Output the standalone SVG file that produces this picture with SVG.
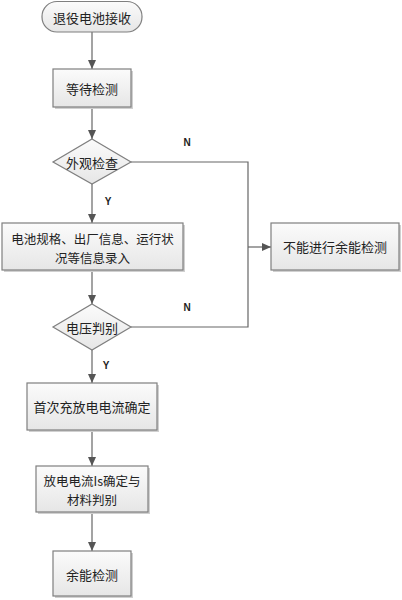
<svg xmlns="http://www.w3.org/2000/svg" width="402" height="600" viewBox="0 0 402 600">
<defs>
<linearGradient id="g" x1="0" y1="0" x2="0" y2="1">
<stop offset="0" stop-color="#fbfbfb"/>
<stop offset="1" stop-color="#e6e6e6"/>
</linearGradient>
<marker id="a" markerWidth="10" markerHeight="8" refX="9" refY="4" orient="auto" markerUnits="userSpaceOnUse">
<path d="M0,0 L9,4 L0,8 Z" fill="#555"/>
</marker>
</defs>
<style>
.n{fill:url(#g);stroke:#7f7f7f;stroke-width:1.2}
.sh{fill:#d0d0d0}
.t{font-family:"Noto Sans CJK SC","Liberation Sans",sans-serif;font-size:13px;fill:#222;text-anchor:middle;dominant-baseline:central}
.t2{font-size:12.5px}
.l{font-family:"Liberation Sans",Arial,sans-serif;font-size:10px;font-weight:bold;fill:#222;text-anchor:middle;dominant-baseline:central}
.c{fill:none;stroke:#666;stroke-width:1.2}
</style>
<rect width="402" height="600" fill="#fff"/>
<g id="connectors">
<line class="c" x1="92" y1="32" x2="92" y2="69" marker-end="url(#a)"/>
<line class="c" x1="92" y1="107" x2="92" y2="139" marker-end="url(#a)"/>
<line class="c" x1="92" y1="184" x2="92" y2="223" marker-end="url(#a)"/>
<polyline class="c" points="131,162 248,162 248,327 131,327"/>
<line class="c" x1="248" y1="247" x2="271" y2="247" marker-end="url(#a)"/>
<line class="c" x1="92" y1="270" x2="92" y2="304" marker-end="url(#a)"/>
<line class="c" x1="92" y1="350" x2="92" y2="383" marker-end="url(#a)"/>
<line class="c" x1="92" y1="430" x2="92" y2="466" marker-end="url(#a)"/>
<line class="c" x1="92" y1="512" x2="92" y2="551" marker-end="url(#a)"/>
<text class="l" x="187" y="142">N</text>
<text class="l" x="108" y="201">Y</text>
<text class="l" x="187" y="307">N</text>
<text class="l" x="106" y="365">Y</text>
</g>
<g id="start">
<rect x="42" y="1.5" width="100" height="30.5" rx="15" class="n"/>
<text class="t" x="92" y="17">退役电池接收</text>
</g>
<g id="wait">
<rect class="sh" x="55" y="71" width="78" height="38"/>
<rect class="n" x="53" y="69" width="78" height="38"/>
<text class="t" x="92" y="88">等待检测</text>
</g>
<g id="appearance">
<polygon class="n" points="92,139 131,162 92,184 53,162"/>
<text class="t" x="92" y="162">外观检查</text>
</g>
<g id="info">
<rect class="sh" x="4" y="225" width="181" height="47"/>
<rect class="n" x="2" y="223" width="181" height="47"/>
<text class="t t2" x="92.5" y="238"><tspan x="92.5" y="238">电池规格、出厂信息、运行状</tspan><tspan x="92.5" y="256.5">况等信息录入</tspan></text>
</g>
<g id="voltage">
<polygon class="n" points="92,304 131,327 92,350 53,327"/>
<text class="t" x="92" y="327">电压判别</text>
</g>
<g id="cannot">
<rect class="sh" x="273" y="225" width="128" height="47"/>
<rect class="n" x="271" y="223" width="128" height="47"/>
<text class="t" x="335" y="246.5">不能进行余能检测</text>
</g>
<g id="first">
<rect class="sh" x="29" y="385" width="130" height="47"/>
<rect class="n" x="27" y="383" width="130" height="47"/>
<text class="t" x="92" y="406.5">首次充放电电流确定</text>
</g>
<g id="discharge">
<rect class="sh" x="38" y="468" width="112" height="46"/>
<rect class="n" x="36" y="466" width="112" height="46"/>
<text class="t t2" x="92" y="480"><tspan x="92" y="480">放电电流Is确定与</tspan><tspan x="92" y="498.5">材料判别</tspan></text>
</g>
<g id="remain">
<rect class="sh" x="55" y="553" width="78" height="45"/>
<rect class="n" x="53" y="551" width="78" height="45"/>
<text class="t" x="92" y="574">余能检测</text>
</g>
</svg>
